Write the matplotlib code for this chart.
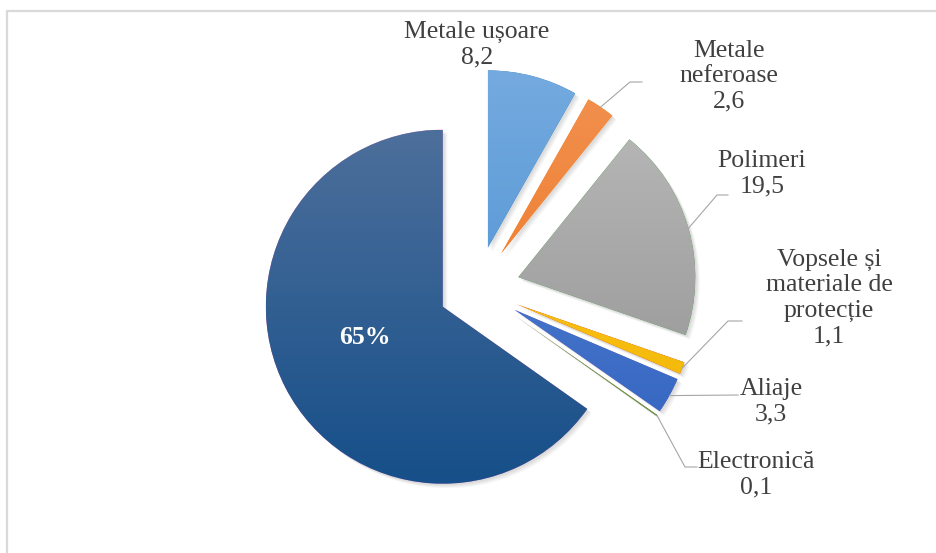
import numpy as np
import matplotlib.pyplot as plt
from matplotlib.colors import to_rgb
from matplotlib.patches import Wedge

W, H = 936, 553

names = ["Metale ușoare", "Metale\nneferoase", "Polimeri",
         "Vopsele și\nmateriale de\nprotecție", "Aliaje", "Electronică"]
values = [8.2, 2.6, 19.5, 1.1, 3.3, 0.1]
rest = 65.2

# top / bottom colour of each slice's vertical gradient
grads = [("#74aadf", "#4a8fd2"), ("#f29150", "#ec741f"), ("#b9b9b9", "#929292"),
         ("#ffca25", "#f0b400"), ("#5882d2", "#2f62bf"), ("#7cb753", "#5f9b3a"),
         ("#4d6f9b", "#164f89")]

label_pos = [(477, 508), (729, 477), (762, 379), (829, 255), (771, 151), (756, 78)]
# elbow / end points of the leader lines (None = no leader)
leaders = [None, [(630, 471), (642, 471)], [(717, 358), (728, 358)],
           [(728, 232), (742, 232)], [(738, 158)], [(685, 86), (697, 86)]]

plt.rcParams['font.family'] = 'serif'
plt.rcParams['font.serif'] = ['Liberation Serif', 'DejaVu Serif']

fig = plt.figure(figsize=(W / 100, H / 100), dpi=100)
ax = fig.add_axes([0, 0, 1, 1])
ax.set_axis_off()

center = (477, H - 289)
R = 177
sizes = values + [rest]
explode = [43] * len(values) + [38.5]   # offsets in pixels

wedges, _ = ax.pie(sizes, explode=explode, startangle=90, counterclock=False,
                   center=center, radius=R, normalize=True,
                   wedgeprops=dict(linewidth=0))

# soft shadow and gradient fill
for w, (top, bot) in zip(wedges, grads):
    cx, cy = w.center
    for k in range(4):
        sh = Wedge((cx + 1.5 + k, cy - 1.5 - k), w.r, w.theta1, w.theta2,
                   facecolor="black", alpha=0.035, linewidth=0, zorder=0.5)
        ax.add_patch(sh)
    w.set_zorder(1)
    t = np.linspace(0, 1, 256)[:, None]
    img = (1 - t) * np.array(to_rgb(top)) + t * np.array(to_rgb(bot))
    im = ax.imshow(img[:, None, :], extent=[cx - w.r, cx + w.r, cy - w.r, cy + w.r],
                   origin="upper", aspect="auto", zorder=1.5, interpolation="bilinear")
    im.set_clip_path(w)

# labels and leader lines
for i, (name, val) in enumerate(zip(names, values)):
    txt = f"{name}\n{val:.1f}".replace(".", ",")
    ax.text(*label_pos[i], txt, ha="center", va="center", multialignment="center",
            fontsize=18.5, color="#404040", zorder=3)
    if leaders[i] is not None:
        w = wedges[i]
        mid = np.deg2rad((w.theta1 + w.theta2) / 2)
        sx = w.center[0] + w.r * np.cos(mid)
        sy = w.center[1] + w.r * np.sin(mid)
        pts = [(sx, sy)] + leaders[i]
        ax.plot([p[0] for p in pts], [p[1] for p in pts], color="#a6a6a6",
                lw=0.8, zorder=2)

ax.text(365, 216, f"{rest:.0f}%", ha="center", va="center", fontsize=18.5,
        fontweight="bold", color="white", zorder=3)

# chart frame
ax.plot([7, 7, W + 5], [-5, H - 11, H - 11], color="#d9d9d9", lw=1.6,
        zorder=0, clip_on=False)

ax.set_xlim(0, W)
ax.set_ylim(0, H)
ax.set_aspect("equal")

fig.savefig("out.png", dpi=100)
